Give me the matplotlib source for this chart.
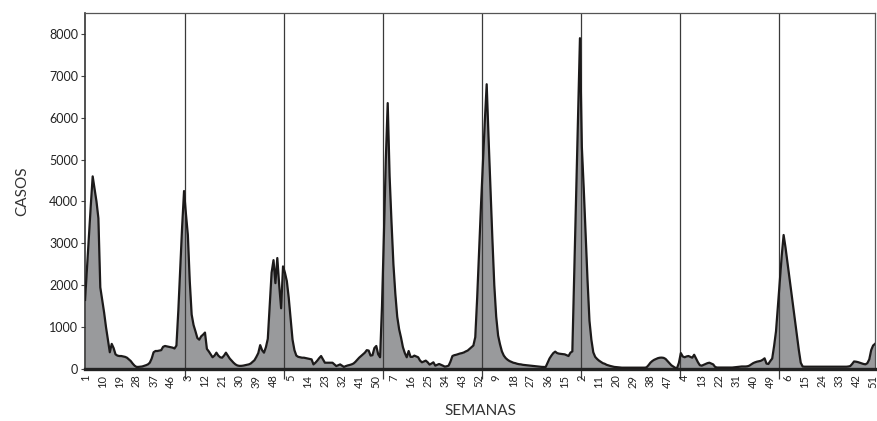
import matplotlib
matplotlib.use("Agg")
import matplotlib.pyplot as plt
import numpy as np

plt.rcParams['font.family'] = ['Lato', 'DejaVu Sans']

# Weekly cases, one list per season (52 weeks each)
season1 = [1650, 2400, 3150, 3900, 4600, 4300, 4000, 3600, 1950, 1650,
           1350, 1000, 700, 400, 600, 500, 350, 320, 310, 310,
           300, 290, 270, 230, 190, 130, 80, 50, 50, 55,
           60, 75, 90, 110, 150, 250, 400, 430, 430, 440,
           450, 530, 550, 540, 530, 520, 510, 490, 560, 1400,
           2400, 3400]
season2 = [4250, 3700, 3200, 2100, 1300, 1050, 900, 740, 700, 780,
           820, 870, 480, 420, 350, 280, 320, 390, 320, 280,
           270, 320, 390, 320, 250, 200, 150, 110, 85, 75,
           75, 80, 90, 100, 110, 130, 170, 210, 290, 380,
           570, 450, 390, 520, 720, 1500, 2300, 2600, 2050, 2650,
           2000, 1450]
season3 = [2450, 2300, 2100, 1700, 1200, 700, 450, 320, 290, 280,
           270, 270, 260, 250, 240, 230, 110, 150, 200, 260,
           310, 230, 150, 150, 150, 150, 150, 110, 70, 90,
           110, 80, 50, 70, 85, 96, 110, 130, 170, 220,
           270, 310, 350, 390, 450, 440, 320, 330, 500, 550,
           350, 280]
season4 = [1500, 3200, 5000, 6350, 4600, 3500, 2500, 1800, 1250, 950,
           750, 520, 380, 280, 430, 290, 290, 320, 300, 280,
           200, 160, 180, 200, 160, 105, 130, 160, 80, 100,
           120, 100, 80, 56, 65, 80, 180, 310, 330, 340,
           355, 370, 380, 395, 420, 440, 480, 520, 560, 760,
           1700, 2800]
season5 = [3900, 4900, 5900, 6800, 5500, 4300, 3100, 2000, 1250, 800,
           590, 420, 320, 260, 220, 190, 170, 150, 140, 125,
           115, 110, 100, 95, 90, 85, 80, 75, 72, 65,
           60, 55, 50, 48, 48, 150, 250, 320, 380, 415,
           380, 367, 360, 355, 350, 330, 310, 390, 420, 2300,
           4200, 6100]
season6 = [7900, 5300, 4300, 3200, 2100, 1150, 700, 400, 290, 240,
           200, 170, 140, 125, 100, 85, 72, 60, 50, 45,
           40, 35, 32, 32, 32, 32, 32, 32, 32, 32,
           32, 32, 32, 32, 32, 40, 90, 150, 190, 220,
           240, 260, 270, 272, 265, 240, 190, 140, 90, 60,
           30, 20]
season7 = [150, 380, 300, 280, 300, 310, 290, 270, 340, 250,
           160, 90, 80, 100, 120, 140, 150, 130, 110, 50,
           35, 35, 35, 35, 35, 35, 35, 35, 35, 40,
           45, 50, 55, 60, 60, 60, 65, 80, 110, 140,
           160, 175, 185, 195, 220, 255, 130, 120, 190, 250,
           550, 900]
season8 = [1500, 2100, 2700, 3200, 2900, 2550, 2200, 1850, 1500, 1150,
           800, 450, 150, 60, 55, 55, 55, 55, 55, 55,
           55, 55, 55, 55, 55, 55, 55, 55, 55, 55,
           55, 55, 55, 55, 55, 55, 55, 60, 70, 120,
           180, 175, 165, 150, 135, 120, 112, 140, 230, 450,
           560, 600]

week_labels = ["1", "10", "19", "28", "37", "46",
               "3", "12", "21", "30", "39", "48",
               "5", "14", "23", "32", "41", "50",
               "7", "16", "25", "34", "43", "52",
               "9", "18", "27", "36", "15",
               "2", "11", "20", "29", "38", "47",
               "4", "13", "22", "31", "40", "49",
               "6", "15", "24", "33", "42", "51"]
y_ticks = [0, 1000, 2000, 3000, 4000, 5000, 6000, 7000, 8000]

seasons = [season1, season2, season3, season4, season5, season6, season7, season8]
cases = np.concatenate(seasons)
x = np.arange(len(cases))

fig = plt.figure(figsize=(8.77, 4.21), dpi=100)
ax = fig.add_axes([0.097, 0.1235, 0.9007, 0.8455])

ax.fill_between(x, cases, 0, color="#999a9c", linewidth=0, zorder=1)
ax.plot(x, cases, color="#1c1a1a", linewidth=1.6, solid_joinstyle="round", zorder=3)

# season boundaries
bounds = [len(season1) * k + 0.5 for k in range(1, len(seasons))]
for b in bounds:
    ax.axvline(b, color="#3a3a3a", linewidth=0.9, zorder=2)

ax.set_xlim(0, len(cases) - 1)
ax.set_ylim(0, 8500)

ax.set_xticks(bounds)
ax.set_xticklabels([])
ax.tick_params(axis="x", which="major", length=7, width=0.9, color="#3a3a3a", direction="out")
ax.set_xticks(np.arange(0, len(cases), 9)[:len(week_labels)], minor=True)
ax.set_xticklabels(week_labels, minor=True, rotation=90, fontsize=8, color="#222222")
ax.tick_params(axis="x", which="minor", length=0, pad=4)

ax.set_yticks(y_ticks)
ax.set_yticklabels([str(v) for v in y_ticks], fontsize=9, color="#222222")
ax.tick_params(axis="y", length=3, width=0.8, color="#444444", pad=2)

for side in ["top", "right"]:
    ax.spines[side].set_color("#555555")
    ax.spines[side].set_linewidth(0.9)
ax.spines["left"].set_color("#333333")
ax.spines["left"].set_linewidth(1.2)
ax.spines["bottom"].set_color("#222222")
ax.spines["bottom"].set_linewidth(2.4)

ax.set_xlabel("SEMANAS", fontsize=11, color="#333333", labelpad=12)
ax.set_ylabel("CASOS", fontsize=11, color="#333333", labelpad=14)

fig.savefig("out.png", dpi=100)
